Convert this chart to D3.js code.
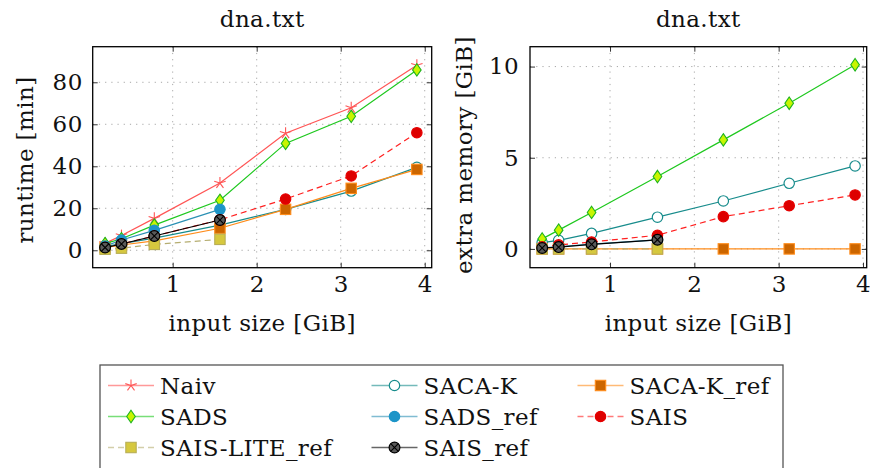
<!DOCTYPE html>
<html>
<head>
<meta charset="utf-8">
<script src="https://cdn.jsdelivr.net/npm/d3@7/dist/d3.min.js"></script>
<style>
  html, body { margin: 0; padding: 0; background: #fff; }
  svg { display: block; }
  text { font-family: "DejaVu Serif", "Liberation Serif", serif; fill: #111; letter-spacing: 0.4px; }
</style>
</head>
<body>
<svg id="chart" width="870" height="468"></svg>
<script>
// Input sizes (GiB) for dna.txt prefixes
const sizeGiB = [0.1953, 0.3906, 0.7813, 1.5625, 2.3438, 3.125, 3.9063];

// Runtime in minutes
const naivRuntime        = [3.3, 7.0, 15.2, 32.0, 55.7, 67.9, 88.1];
const sacakRuntime       = [1.8, 3.2, 5.8, 12.0, 19.5, 28.2, 39.5];
const sacakRefRuntime    = [1.3, 2.5, 4.5, 10.5, 19.5, 29.5, 38.5];
const sadsRuntime        = [3.2, 5.5, 12.0, 23.8, 50.9, 63.8, 85.9];
const sadsRefRuntime     = [2.0, 4.9, 9.5, 19.5];
const saisRuntime        = [1.3, 3.0, 6.8, 14.5, 24.4, 35.4, 56.0];
const saisLiteRefRuntime = [0.5, 1.0, 2.8, 5.2];
const saisRefRuntime     = [1.3, 3.0, 6.8, 14.4];

// Extra memory in GiB
const sacakMem       = [0.35, 0.47, 0.85, 1.74, 2.63, 3.60, 4.55];
const sacakRefMem    = [0, 0, 0, 0, 0, 0, 0];
const sadsMem        = [0.55, 1.03, 2.0, 3.97, 5.98, 7.99, 10.1];
const sadsRefMem     = [0.06, 0.12, 0.26, 0.50];
const saisMem        = [0.12, 0.22, 0.38, 0.75, 1.77, 2.37, 2.96];
const saisLiteRefMem = [0, 0, 0, 0];
const saisRefMem     = [0.05, 0.10, 0.25, 0.50];

// Axis ticks
const xTickValues       = [1, 2, 3, 4];
const runtimeTickValues = [0, 20, 40, 60, 80];
const memoryTickValues  = [0, 5, 10];

const chartTitle = "dna.txt";
const xLabel = "input size [GiB]";
const runtimeLabel = "runtime [min]";
const memoryLabel = "extra memory [GiB]";

// Series styling, in drawing order
const styles = {
  "Naiv":          { line: "#ff5555", dash: null,  mark: "star",    fill: "none",    stroke: "#ff5555" },
  "SACA-K":        { line: "#178c8c", dash: null,  mark: "circle",  fill: "#ffffff", stroke: "#178c8c" },
  "SACA-K_ref":    { line: "#ff8c1a", dash: null,  mark: "square",  fill: "#cc6600", stroke: "#ff8c1a" },
  "SADS":          { line: "#1ec81e", dash: null,  mark: "diamond", fill: "#c8f500", stroke: "#1eb41e" },
  "SADS_ref":      { line: "#2b90b4", dash: null,  mark: "circle",  fill: "#1d95c8", stroke: "#1d95c8" },
  "SAIS":          { line: "#ff2020", dash: "6,4", mark: "circle",  fill: "#dd0000", stroke: "#e60000" },
  "SAIS-LITE_ref": { line: "#b5ad70", dash: "6,4", mark: "square",  fill: "#d6c83e", stroke: "#b8ae56" },
  "SAIS_ref":      { line: "#000000", dash: null,  mark: "otimes",  fill: "#5a5a5a", stroke: "#000000" }
};

const runtimeSeries = [
  ["Naiv", naivRuntime], ["SACA-K", sacakRuntime], ["SACA-K_ref", sacakRefRuntime],
  ["SADS", sadsRuntime], ["SADS_ref", sadsRefRuntime], ["SAIS", saisRuntime],
  ["SAIS-LITE_ref", saisLiteRefRuntime], ["SAIS_ref", saisRefRuntime]
];
const memorySeries = [
  ["SACA-K", sacakMem], ["SACA-K_ref", sacakRefMem],
  ["SADS", sadsMem], ["SADS_ref", sadsRefMem], ["SAIS", saisMem],
  ["SAIS-LITE_ref", saisLiteRefMem], ["SAIS_ref", saisRefMem]
];
const legendOrder = ["Naiv", "SACA-K", "SACA-K_ref", "SADS", "SADS_ref", "SAIS", "SAIS-LITE_ref", "SAIS_ref"];

const svg = d3.select("#chart");
const FONT = 23;

function drawMark(g, type, st, cx, cy) {
  const m = g.append("g").attr("transform", `translate(${cx},${cy})`);
  if (type === "star") {
    const r = 6;
    for (let k = 0; k < 5; k++) {
      const a = -Math.PI / 2 + k * 2 * Math.PI / 5;
      m.append("line").attr("x1", 0).attr("y1", 0)
        .attr("x2", r * Math.cos(a)).attr("y2", r * Math.sin(a))
        .attr("stroke", st.stroke).attr("stroke-width", 1.1);
    }
  } else if (type === "circle") {
    m.append("circle").attr("r", 5.2).attr("fill", st.fill)
      .attr("stroke", st.stroke).attr("stroke-width", 1.2);
  } else if (type === "square") {
    m.append("rect").attr("x", -5.2).attr("y", -5.2).attr("width", 10.4).attr("height", 10.4)
      .attr("fill", st.fill).attr("stroke", st.stroke).attr("stroke-width", 1.1);
  } else if (type === "diamond") {
    m.append("path").attr("d", "M0,-6.2L4.3,0L0,6.2L-4.3,0Z")
      .attr("fill", st.fill).attr("stroke", st.stroke).attr("stroke-width", 1.1);
  } else if (type === "otimes") {
    m.append("circle").attr("r", 5.4).attr("fill", st.fill)
      .attr("stroke", st.stroke).attr("stroke-width", 1.2);
    const d = 3.8;
    m.append("path").attr("d", `M${-d},${-d}L${d},${d}M${-d},${d}L${d},${-d}`)
      .attr("stroke", "#000").attr("stroke-width", 1.1);
  }
}

function panel(cfg) {
  const x = d3.scaleLinear().domain(cfg.xDom).range([cfg.left, cfg.right]);
  const y = d3.scaleLinear().domain(cfg.yDom).range([cfg.bottom, cfg.top]);
  const g = svg.append("g");

  // dotted grid
  const grid = g.append("g").attr("stroke", "#a8a8a8").attr("stroke-width", 1)
    .attr("stroke-dasharray", "1.2,5");
  xTickValues.forEach(v => grid.append("line")
    .attr("x1", x(v)).attr("x2", x(v)).attr("y1", cfg.top).attr("y2", cfg.bottom));
  cfg.yTicks.forEach(v => grid.append("line")
    .attr("x1", cfg.left).attr("x2", cfg.right).attr("y1", y(v)).attr("y2", y(v)));

  // axes (ticks pointing inward on all four sides)
  const tickStyle = sel => {
    sel.select(".domain").remove();
    sel.selectAll(".tick line").attr("stroke", "#333").attr("stroke-width", 1);
    sel.selectAll(".tick text").style("font-size", FONT + "px")
      .style("font-family", "'DejaVu Serif', serif").attr("fill", "#111");
  };
  g.append("g").attr("transform", `translate(0,${cfg.bottom})`)
    .call(d3.axisBottom(x).tickValues(xTickValues).tickSizeInner(-5).tickSizeOuter(0).tickPadding(8).tickFormat(d3.format("d")))
    .call(tickStyle);
  g.append("g").attr("transform", `translate(0,${cfg.top})`)
    .call(d3.axisTop(x).tickValues(xTickValues).tickSizeInner(-5).tickSizeOuter(0).tickFormat(""))
    .call(tickStyle);
  g.append("g").attr("transform", `translate(${cfg.left},0)`)
    .call(d3.axisLeft(y).tickValues(cfg.yTicks).tickSizeInner(-5).tickSizeOuter(0).tickPadding(cfg.yPad).tickFormat(d3.format("d")))
    .call(tickStyle);
  g.append("g").attr("transform", `translate(${cfg.right},0)`)
    .call(d3.axisRight(y).tickValues(cfg.yTicks).tickSizeInner(-5).tickSizeOuter(0).tickFormat(""))
    .call(tickStyle);

  // series
  const lineGen = d3.line().x(d => x(d[0])).y(d => y(d[1]));
  cfg.series.forEach(([name, vals]) => {
    const st = styles[name];
    const pts = vals.map((v, i) => [sizeGiB[i], v]);
    const sg = g.append("g");
    sg.append("path").attr("d", lineGen(pts)).attr("fill", "none")
      .attr("stroke", st.line).attr("stroke-width", 1.2)
      .attr("stroke-dasharray", st.dash);
    pts.forEach(p => drawMark(sg, st.mark, st, x(p[0]), y(p[1])));
  });

  // frame
  g.append("rect").attr("x", cfg.left).attr("y", cfg.top)
    .attr("width", cfg.right - cfg.left).attr("height", cfg.bottom - cfg.top)
    .attr("fill", "none").attr("stroke", "#000").attr("stroke-width", 1.3);

  // labels
  const cx = (cfg.left + cfg.right) / 2;
  g.append("text").attr("x", cx).attr("y", 27).attr("text-anchor", "middle")
    .style("font-size", FONT + "px").text(chartTitle);
  g.append("text").attr("x", cx).attr("y", 331).attr("text-anchor", "middle")
    .style("font-size", FONT + "px").text(xLabel);
  g.append("text").attr("transform", `translate(${cfg.yLabelX},${cfg.yLabelY}) rotate(-90)`)
    .attr("text-anchor", "middle").style("font-size", FONT + "px").text(cfg.yLabel);
}

panel({
  left: 92.7, right: 431.7, top: 46.7, bottom: 267.7,
  xDom: [0.048, 4.083], yDom: [-8.3, 96.95],
  yTicks: runtimeTickValues, yPad: 10, yLabelX: 33, yLabelY: 160, yLabel: runtimeLabel,
  series: runtimeSeries
});
panel({
  left: 530, right: 866.7, top: 46.7, bottom: 267.7,
  xDom: [0.051, 4.044], yDom: [-1.03, 11.09],
  yTicks: memoryTickValues, yPad: 11, yLabelX: 472, yLabelY: 155, yLabel: memoryLabel,
  series: memorySeries
});

// legend
const lg = svg.append("g");
lg.append("rect").attr("x", 100).attr("y", 365).attr("width", 683).attr("height", 140)
  .attr("fill", "#fff").attr("stroke", "#555").attr("stroke-width", 1.3);
const colX = [108, 371.5, 577.5];
const rowY = [385.5, 416.5, 447.5];
legendOrder.forEach((name, i) => {
  const st = styles[name];
  const cx0 = colX[i % 3], cy = rowY[Math.floor(i / 3)];
  lg.append("line").attr("x1", cx0).attr("x2", cx0 + 46).attr("y1", cy).attr("y2", cy)
    .attr("stroke", st.line).attr("stroke-width", 1.3).attr("stroke-opacity", 0.6)
    .attr("stroke-dasharray", st.dash);
  drawMark(lg, st.mark, st, cx0 + 23, cy);
  lg.append("text").attr("x", cx0 + 52).attr("y", cy).attr("dy", "0.35em")
    .style("font-size", FONT + "px").text(name);
});
</script>
</body>
</html>
